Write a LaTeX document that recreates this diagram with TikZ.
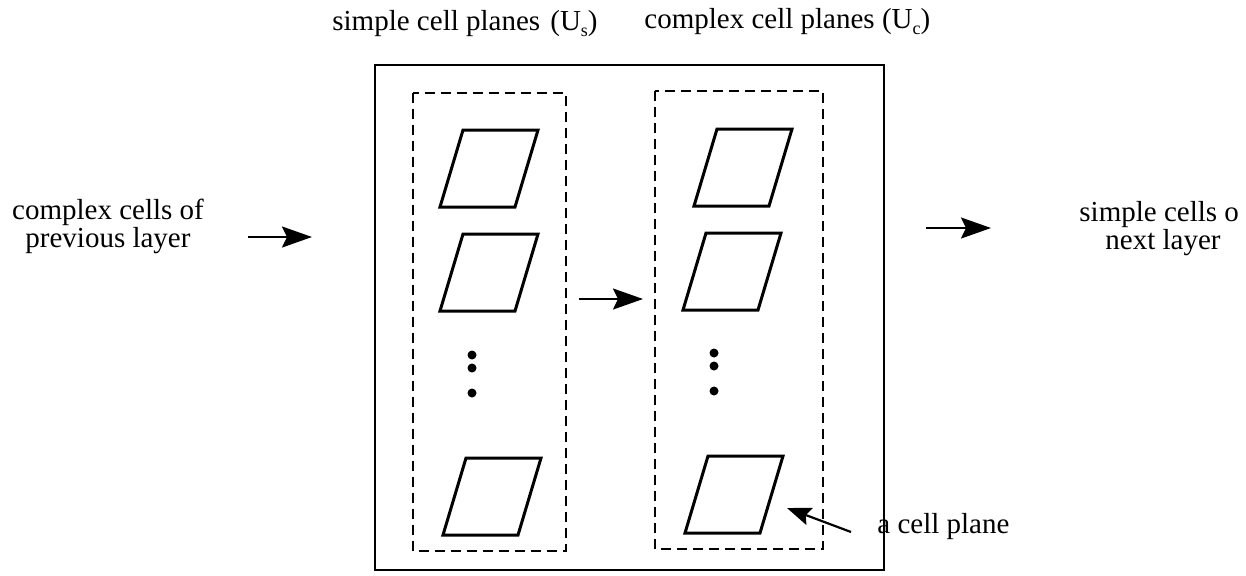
\documentclass[tikz,border=0pt]{standalone}
\usepackage{fontspec}
\setmainfont{Liberation Serif}
\usetikzlibrary{arrows.meta}

% lowered subscript in the text font
\newcommand{\lowsub}[1]{\raisebox{-0.4ex}{\fontsize{9}{9}\selectfont #1}}

\begin{document}
\begin{tikzpicture}[x=0.5pt,y=-0.5pt,
  label/.style={inner sep=0pt,font=\fontsize{14.5}{14}\selectfont},
  frame/.style={line width=1.1pt},
  group/.style={line width=1.3pt,dash pattern=on 5pt off 3pt},
  plane/.style={line width=1.5pt,line join=miter},
  flow/.style={line width=1.1pt,-{Stealth[length=15pt,width=10.5pt,inset=2.5pt]}},
  dot/.style={fill=black,draw=none}]

\useasboundingbox (0,0) rectangle (1246,575);

% outer layer box and the two groups of cell planes
\draw[frame] (375,65) rectangle (884,570);
\coordinate (sgL) at (413,93);
\coordinate (sgR) at (566,551);
\coordinate (cgL) at (655,91);
\coordinate (cgR) at (823,549);
\draw[group] (sgL) rectangle (sgR);
\draw[group] (cgL) rectangle (cgR);

% a cell plane: parallelogram given by its lower-left corner
\newcommand{\cellplane}[3]{%
  \coordinate (#1) at (#2,#3);
  \draw[plane] (#1) -- ++(75,0) -- ++(23,-77) -- ++(-75,0) -- cycle;}

\cellplane{s1}{440}{207}
\cellplane{s2}{440}{311}
\cellplane{s3}{443}{535}
\cellplane{c1}{694}{206}
\cellplane{c2}{683}{310}
\cellplane{c3}{685}{533}

% vertical ellipses
\foreach \yy in {355,368,393} {
  \fill[dot] (472,\yy) circle (4.5);
  \fill[dot] (714,\yy-2) circle (4.5);
}

% labels
\node[label,anchor=west] (stitle) at (332,24) {simple cell planes\hspace{0.35em}(U\lowsub{s})};
\node[label,anchor=west] (ctitle) at (644,22) {complex cell planes (U\lowsub{c})};

\node[label,align=center] (prev) at (108,226) {complex cells of\\previous layer};
\node[label,anchor=west] (next1) at (1079,215) {simple cells o};
\node[label] (next2) at (1163,243) {next layer};
\node[label,anchor=west] (cp) at (877,527) {a cell plane};

% connectors
\coordinate (inA) at (248,237);
\coordinate (inB) at (312,237);
\coordinate (midA) at (579,299);
\coordinate (midB) at (643,299);
\coordinate (outA) at (926,228);
\coordinate (outB) at (991,228);
\coordinate (cpA) at (851,532);
\coordinate (cpB) at (787,508);
\draw[flow] (inA) -- (inB);
\draw[flow] (midA) -- (midB);
\draw[flow] (outA) -- (outB);
\draw[flow,-{Stealth[length=12pt,width=9pt,inset=2pt]}] (cpA) -- (cpB);
\end{tikzpicture}
\end{document}
